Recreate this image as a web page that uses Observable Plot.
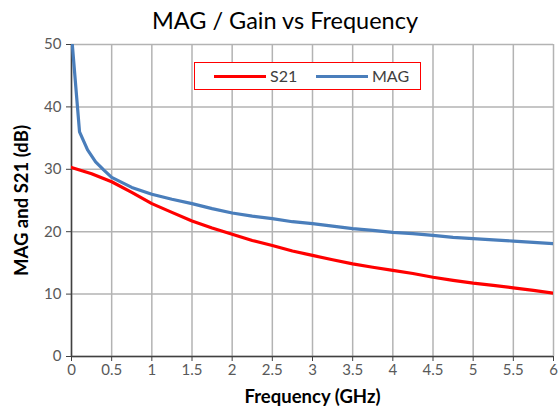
<!DOCTYPE html>
<html><head><meta charset="utf-8">
<script src="https://cdn.jsdelivr.net/npm/d3@7"></script>
<script src="https://cdn.jsdelivr.net/npm/@observablehq/plot@0.6"></script>
<style>
body{margin:0;background:#fff;font-family:Lato,"Open Sans",sans-serif;}
#wrap{position:relative;width:558px;height:412px;overflow:hidden;}
#title{position:absolute;left:0;top:0;width:558px;height:36px;line-height:40px;text-align:center;font-size:23.5px;color:#000;padding-left:12px;box-sizing:border-box;z-index:2;}
#legend{position:absolute;left:194px;top:62px;width:227px;height:28px;border:1px solid #ff0000;background:#fff;box-sizing:border-box;font-size:16px;color:#404040;z-index:2;}
.sw{position:absolute;top:12px;height:3px;width:52px;}
.lb{position:absolute;top:3px;}
</style></head>
<body><div id="wrap"><div id="chart"></div><div id="title">MAG / Gain vs Frequency</div>
<div id="legend"></div></div>
<script>
const seriesNames = ["S21", "MAG"];
const seriesColors = ["#ff0000", "#4a7ebb"];
const magFreq = [0.01,0.1,0.2,0.3,0.4,0.5,0.75,1,1.25,1.5,1.75,2,2.25,2.5,2.75,3,3.25,3.5,3.75,4,4.25,4.5,4.75,5,5.25,5.5,5.75,6];
const magVals = [50,36,33.1,31.2,29.9,28.7,27.1,26.0,25.2,24.5,23.7,23.0,22.5,22.1,21.6,21.3,20.9,20.5,20.2,19.9,19.7,19.4,19.1,18.9,18.7,18.5,18.3,18.1];
const s21Freq = [0,0.25,0.5,0.75,1,1.25,1.5,1.75,2,2.25,2.5,2.75,3,3.25,3.5,3.75,4,4.25,4.5,4.75,5,5.25,5.5,5.75,6];
const s21Vals = [30.3,29.3,28.0,26.3,24.5,23.1,21.7,20.6,19.6,18.6,17.8,16.9,16.2,15.5,14.85,14.3,13.8,13.3,12.7,12.2,11.75,11.4,11.0,10.6,10.15];
const xTicks = [0,0.5,1,1.5,2,2.5,3,3.5,4,4.5,5,5.5,6];
const yTicks = [0,10,20,30,40,50];

const data = [
  ...s21Freq.map((f,i)=>({f, v:s21Vals[i], s:"S21"})),
  ...magFreq.map((f,i)=>({f, v:magVals[i], s:"MAG"}))
];

const chart = Plot.plot({
  width: 558, height: 412,
  marginTop: 44, marginBottom: 56, marginLeft: 71, marginRight: 5,
  style: {fontFamily: "Lato, 'Open Sans', sans-serif", fontSize: "15px", color: "#595959", background: "#fff"},
  x: {domain: [0, 6], ticks: xTicks},
  y: {domain: [0, 50], ticks: yTicks},
  color: {domain: seriesNames, range: seriesColors},
  marks: [
    Plot.gridX(xTicks, {stroke: "#b3b3b3", strokeOpacity: 1, strokeWidth: 1.5}),
    Plot.gridY(yTicks, {stroke: "#b3b3b3", strokeOpacity: 1, strokeWidth: 1.5}),
    Plot.axisX({ticks: xTicks, tickSize: 5, tickPadding: 3, stroke: "#404040", fill: "#595959", tickFormat: d => String(d),
      label: "Frequency (GHz)", labelAnchor: "center", labelArrow: "none", labelOffset: 46}),
    Plot.axisY({ticks: yTicks, tickSize: 5, tickPadding: 5, stroke: "#404040", fill: "#595959",
      label: "MAG and S21 (dB)", labelAnchor: "center", labelArrow: "none", labelOffset: 57}),
    Plot.ruleX([0], {stroke: "#404040", strokeWidth: 1.5}),
    Plot.ruleY([0], {stroke: "#404040", strokeWidth: 1.5}),
    Plot.line(data, {x: "f", y: "v", z: "s", stroke: "s", strokeWidth: 3.2, clip: true})
  ]
});
document.getElementById("chart").appendChild(chart);
chart.querySelectorAll("g[aria-label='x-axis label'] text, g[aria-label='y-axis label'] text").forEach(t => {
  t.setAttribute("font-weight", "bold"); t.setAttribute("fill", "#000"); t.style.fontSize = "18.5px";
});

const lg = document.getElementById("legend");
const pos = [[19, 75], [121, 177]];
seriesNames.forEach((n, i) => {
  const sw = document.createElement("div"); sw.className = "sw";
  sw.style.left = pos[i][0] + "px"; sw.style.background = seriesColors[i];
  const lb = document.createElement("div"); lb.className = "lb";
  lb.style.left = pos[i][1] + "px"; lb.textContent = n;
  lg.appendChild(sw); lg.appendChild(lb);
});
</script></body></html>
